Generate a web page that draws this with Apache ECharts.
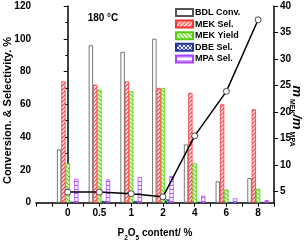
<!DOCTYPE html>
<html><head><meta charset="utf-8">
<script src="https://cdn.jsdelivr.net/npm/echarts@6/dist/echarts.min.js"></script>
<style>html,body{margin:0;padding:0;background:#fff}#c{width:307px;height:242px}</style>
</head><body><div id="c"></div>
<script>
var categories = ['0', '0.5', '1', '2', '4', '6', '8'];
var bdlConv = [32.5, 96, 92, 100, 35.5, 13, 15];
var mekSel = [74, 72, 74, 70, 67, 60, 57];
var mekYield = [24, 69, 68, 70, 24, 8, 8.5];
var dbeSel = [0.5, 1, 1, 2, 0.5, 0.3, 0.3];
var mpaSel = [14.6, 14.2, 15.5, 16.3, 4.3, 2.7, 1.6];
var massRatio = [4.9, 4.9, 4.6, 4.0, 15.5, 23.9, 37.4];
var leftTicks = [0, 20, 40, 60, 80, 100, 120];
var rightTicks = [5, 10, 15, 20, 25, 30, 35, 40];

function pat(kind, color) {
  var c = document.createElement('canvas');
  var s = 4; c.width = s; c.height = s;
  var g = c.getContext('2d');
  g.fillStyle = '#fff'; g.fillRect(0, 0, s, s);
  g.strokeStyle = color; g.lineWidth = 1.3;
  g.beginPath();
  if (kind === 'diag') {
    g.moveTo(-1, s + 1); g.lineTo(s + 1, -1);
    g.moveTo(-1, 1); g.lineTo(1, -1);
    g.moveTo(s - 1, s + 1); g.lineTo(s + 1, s - 1);
  } else if (kind === 'back') {
    g.moveTo(-1, -1); g.lineTo(s + 1, s + 1);
    g.moveTo(s - 1, -1); g.lineTo(s + 1, 1);
    g.moveTo(-1, s - 1); g.lineTo(1, s + 1);
  } else if (kind === 'cross') {
    g.lineWidth = 1;
    g.moveTo(-1, s + 1); g.lineTo(s + 1, -1);
    g.moveTo(-1, -1); g.lineTo(s + 1, s + 1);
  } else if (kind === 'horiz') {
    g.lineWidth = 1;
    g.moveTo(0, 1.5); g.lineTo(s, 1.5);
  }
  g.stroke();
  return { image: c, repeat: 'repeat' };
}
function xy(arr) { return arr.map(function (v, i) { return [i, v]; }); }

var FF = '"Liberation Sans", Arial, sans-serif';
var chart = echarts.init(document.getElementById('c'), null, { renderer: 'canvas' });
var barW = 4.3;
function barSeries(name, data, color, border) {
  return {
    name: name, type: 'bar', data: xy(data), barWidth: barW, barGap: '0%',
    itemStyle: { color: color, borderColor: border, borderWidth: 0.8 }
  };
}
chart.setOption({
  animation: false,
  grid: { left: 36, right: 33, top: 6, bottom: 39.3, containLabel: false, outerBoundsMode: 'none' },
  legend: {
    orient: 'vertical', left: 175, top: 8, padding: 0, itemWidth: 17, itemHeight: 7, itemGap: 2.6,
    selectedMode: false, icon: 'rect',
    data: ['BDL Conv.', 'MEK Sel.', 'MEK Yield', 'DBE Sel.', 'MPA Sel.'],
    textStyle: { fontFamily: FF, fontWeight: 'bold', fontSize: 9, color: '#000', padding: [0, 0, 0, -3] }
  },
  xAxis: {
    type: 'value', min: -1, max: 6.5, interval: 0.5,
    axisLine: { lineStyle: { color: '#000', width: 1.5 } },
    axisTick: { show: true, length: 4, lineStyle: { color: '#000', width: 1 } },
    splitLine: { show: false },
    axisLabel: {
      margin: 6, fontFamily: FF, fontWeight: 'bold', fontSize: 10, color: '#000',
      showMinLabel: true, showMaxLabel: true,
      formatter: function (v) {
        var r = Math.round(v);
        if (Math.abs(v - r) < 1e-6 && r >= 0 && r < categories.length) return categories[r];
        return '';
      }
    }
  },
  yAxis: [{
    type: 'value', min: leftTicks[0], max: leftTicks[leftTicks.length - 1], interval: 20,
    axisLine: { show: true, lineStyle: { color: '#000', width: 1.5 } },
    axisTick: { show: true, length: 4, lineStyle: { color: '#000', width: 1 } },
    minorTick: { show: true, splitNumber: 2, length: 2.5, lineStyle: { color: '#000', width: 1 } },
    splitLine: { show: false },
    axisLabel: { margin: 5, fontFamily: FF, fontWeight: 'bold', fontSize: 10, color: '#000' }
  }, {
    type: 'value', min: 2.9, max: 40, position: 'right',
    axisLine: { show: true, lineStyle: { color: '#000', width: 1.5 } },
    axisTick: { show: true, length: 4, customValues: rightTicks, lineStyle: { color: '#000', width: 1 } },
    splitLine: { show: false },
    axisLabel: { margin: 6, customValues: rightTicks, fontFamily: FF, fontWeight: 'bold', fontSize: 10, color: '#000' }
  }],
  graphic: [{
    type: 'text', x: 103, y: 18,
    style: { text: '180 °C', fontFamily: FF, fontWeight: 'bold', fontSize: 10, fill: '#000', align: 'center', verticalAlign: 'middle' }
  }, {
    type: 'text', x: 8, y: 110.5, rotation: Math.PI / 2,
    style: { text: 'Conversion. & Selectivity. %', fontFamily: FF, fontWeight: 'bold', fontSize: 11, fill: '#000', align: 'center', verticalAlign: 'middle' }
  }, {
    type: 'text', x: 155, y: 235,
    style: {
      text: '{a|P}{s|2}{a|O}{s|5}{a| content/ %}', align: 'center', verticalAlign: 'middle',
      rich: {
        a: { fontFamily: FF, fontWeight: 'bold', fontSize: 10, fill: '#000', lineHeight: 14, verticalAlign: 'top' },
        s: { fontFamily: FF, fontWeight: 'bold', fontSize: 6.5, fill: '#000', lineHeight: 14, verticalAlign: 'bottom' }
      }
    }
  }, {
    type: 'text', x: 296, y: 116, rotation: -Math.PI / 2,
    style: {
      text: '{m|m}{s| MEK}{m|/m}{s| MPA}', align: 'center', verticalAlign: 'middle',
      rich: {
        m: { fontFamily: FF, fontStyle: 'italic', fontWeight: 'bold', fontSize: 13, fill: '#000', lineHeight: 15, verticalAlign: 'top' },
        s: { fontFamily: FF, fontWeight: 'bold', fontSize: 7, fill: '#000', lineHeight: 15, verticalAlign: 'bottom' }
      }
    }
  }],
  series: [
    barSeries('BDL Conv.', bdlConv, '#fff', '#555'),
    barSeries('MEK Sel.', mekSel, pat('diag', '#ff4b4b'), '#ff3030'),
    barSeries('MEK Yield', mekYield, pat('back', '#66dd22'), '#55cc11'),
    barSeries('DBE Sel.', dbeSel, pat('cross', '#3344aa'), '#223399'),
    barSeries('MPA Sel.', mpaSel, pat('horiz', '#b355ff'), '#aa44ff'),
    {
      name: 'ratio', type: 'line', yAxisIndex: 1, data: xy(massRatio), z: 5,
      symbol: 'circle', symbolSize: 6,
      lineStyle: { color: '#000', width: 1.5 },
      itemStyle: { color: '#fff', borderColor: '#444', borderWidth: 1 }
    }
  ]
});
</script></body></html>
